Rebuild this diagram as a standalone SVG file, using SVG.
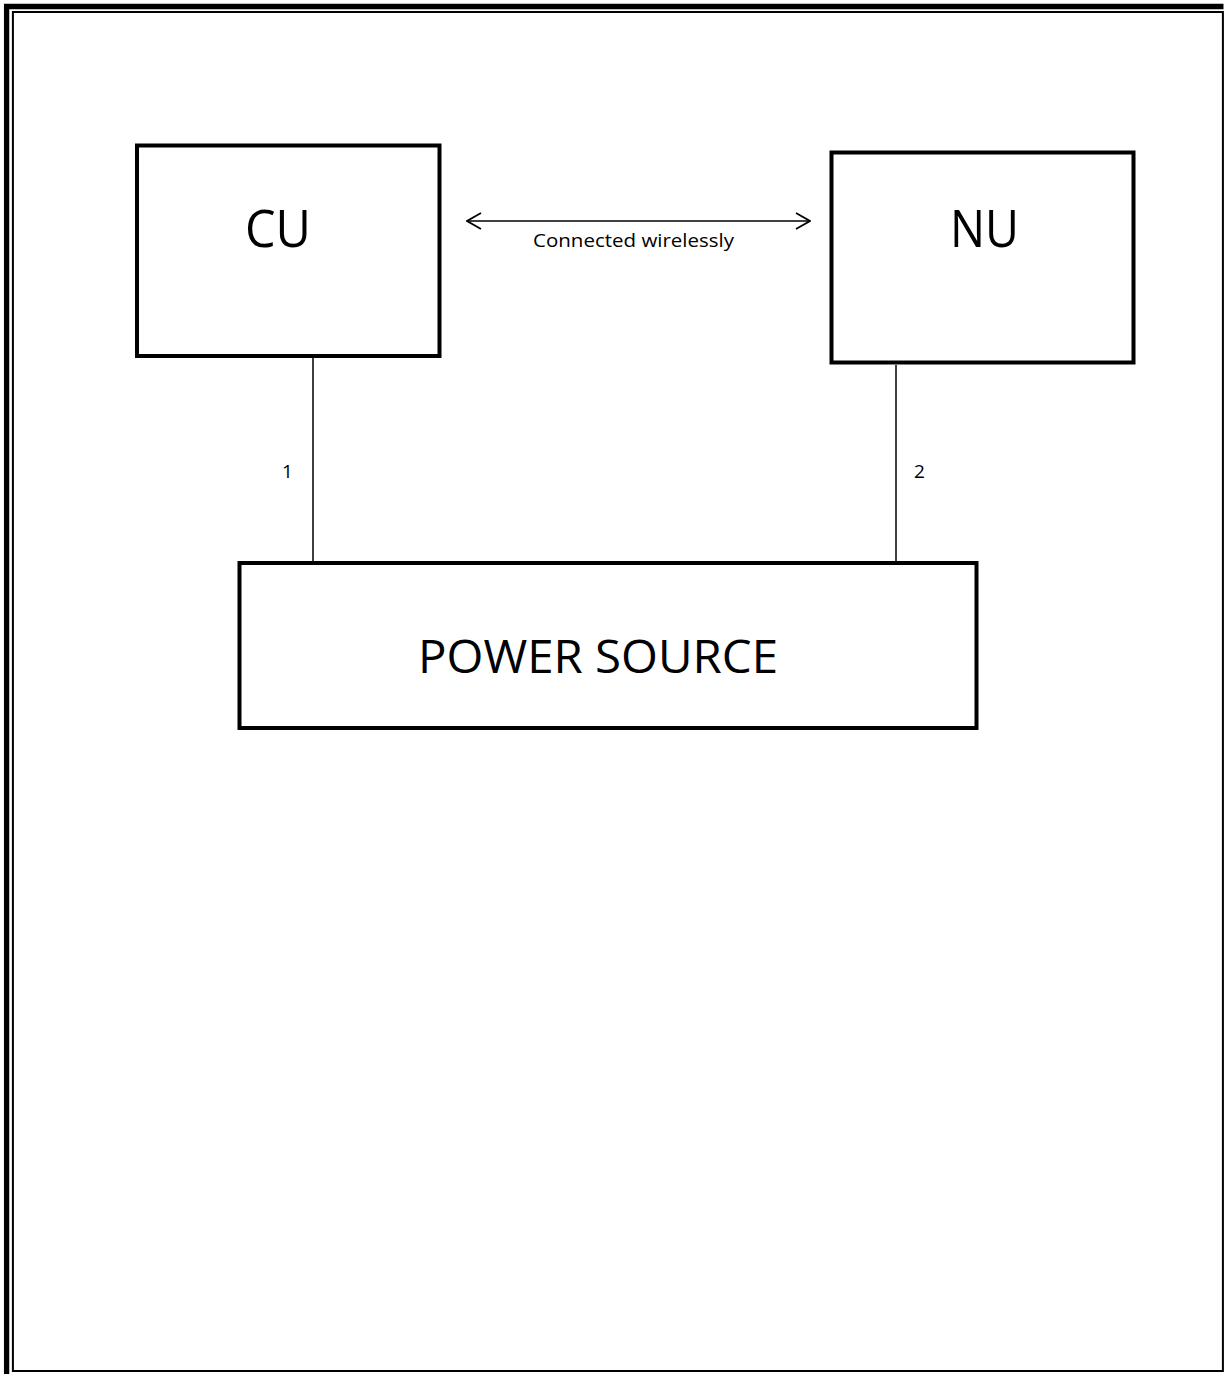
<svg xmlns="http://www.w3.org/2000/svg" width="1225" height="1374" viewBox="0 0 1225 1374">
<style>
.box{fill:#fff;stroke:#000;stroke-width:4;stroke-linejoin:miter}
.lbl{font-family:"Open Sans","Liberation Sans",Arial,sans-serif;fill:#000}
.big{font-size:51px;text-anchor:middle}
.small{font-size:19px}
.wire{stroke:#000;stroke-width:1.5;fill:none}
.chev{stroke:#000;stroke-width:1.8;fill:none}
</style>
<defs>
<marker id="arr" viewBox="0 0 16 20" refX="15" refY="10" markerWidth="16" markerHeight="20" markerUnits="userSpaceOnUse" orient="auto-start-reverse">
<path d="M1,2 L15,10 L1,18" class="chev"/>
</marker>
</defs>
<rect x="0" y="0" width="1225" height="1374" fill="#fff"/>
<g id="frame">
<path d="M6.6,1374 V6.5 H1223.5" fill="none" stroke="#000" stroke-width="5.3"/>
<rect x="12.9" y="12" width="1210" height="1359" fill="none" stroke="#000" stroke-width="2"/>
</g>
<g id="connectors">
<line x1="313" y1="358" x2="313" y2="562" class="wire"/>
<line x1="896" y1="365" x2="896" y2="562" class="wire"/>
<line x1="467" y1="221" x2="810" y2="221" class="wire" marker-start="url(#arr)" marker-end="url(#arr)"/>
<text x="533" y="247" class="lbl small" textLength="201" lengthAdjust="spacingAndGlyphs">Connected wirelessly</text>
<text x="282" y="478" class="lbl small">1</text>
<text x="914" y="478" class="lbl small">2</text>
</g>
<g id="cu">
<rect x="137" y="145.5" width="302.5" height="210.5" class="box"/>
<text x="278" y="247" class="lbl big" textLength="66" lengthAdjust="spacingAndGlyphs">CU</text>
</g>
<g id="nu">
<rect x="831.5" y="152.5" width="302" height="210" class="box"/>
<text x="984.5" y="247" class="lbl big" textLength="69" lengthAdjust="spacingAndGlyphs">NU</text>
</g>
<g id="power">
<rect x="239.5" y="563" width="737" height="165" class="box"/>
<text x="418" y="673" class="lbl" font-size="45" textLength="360" lengthAdjust="spacingAndGlyphs">POWER SOURCE</text>
</g>
</svg>
